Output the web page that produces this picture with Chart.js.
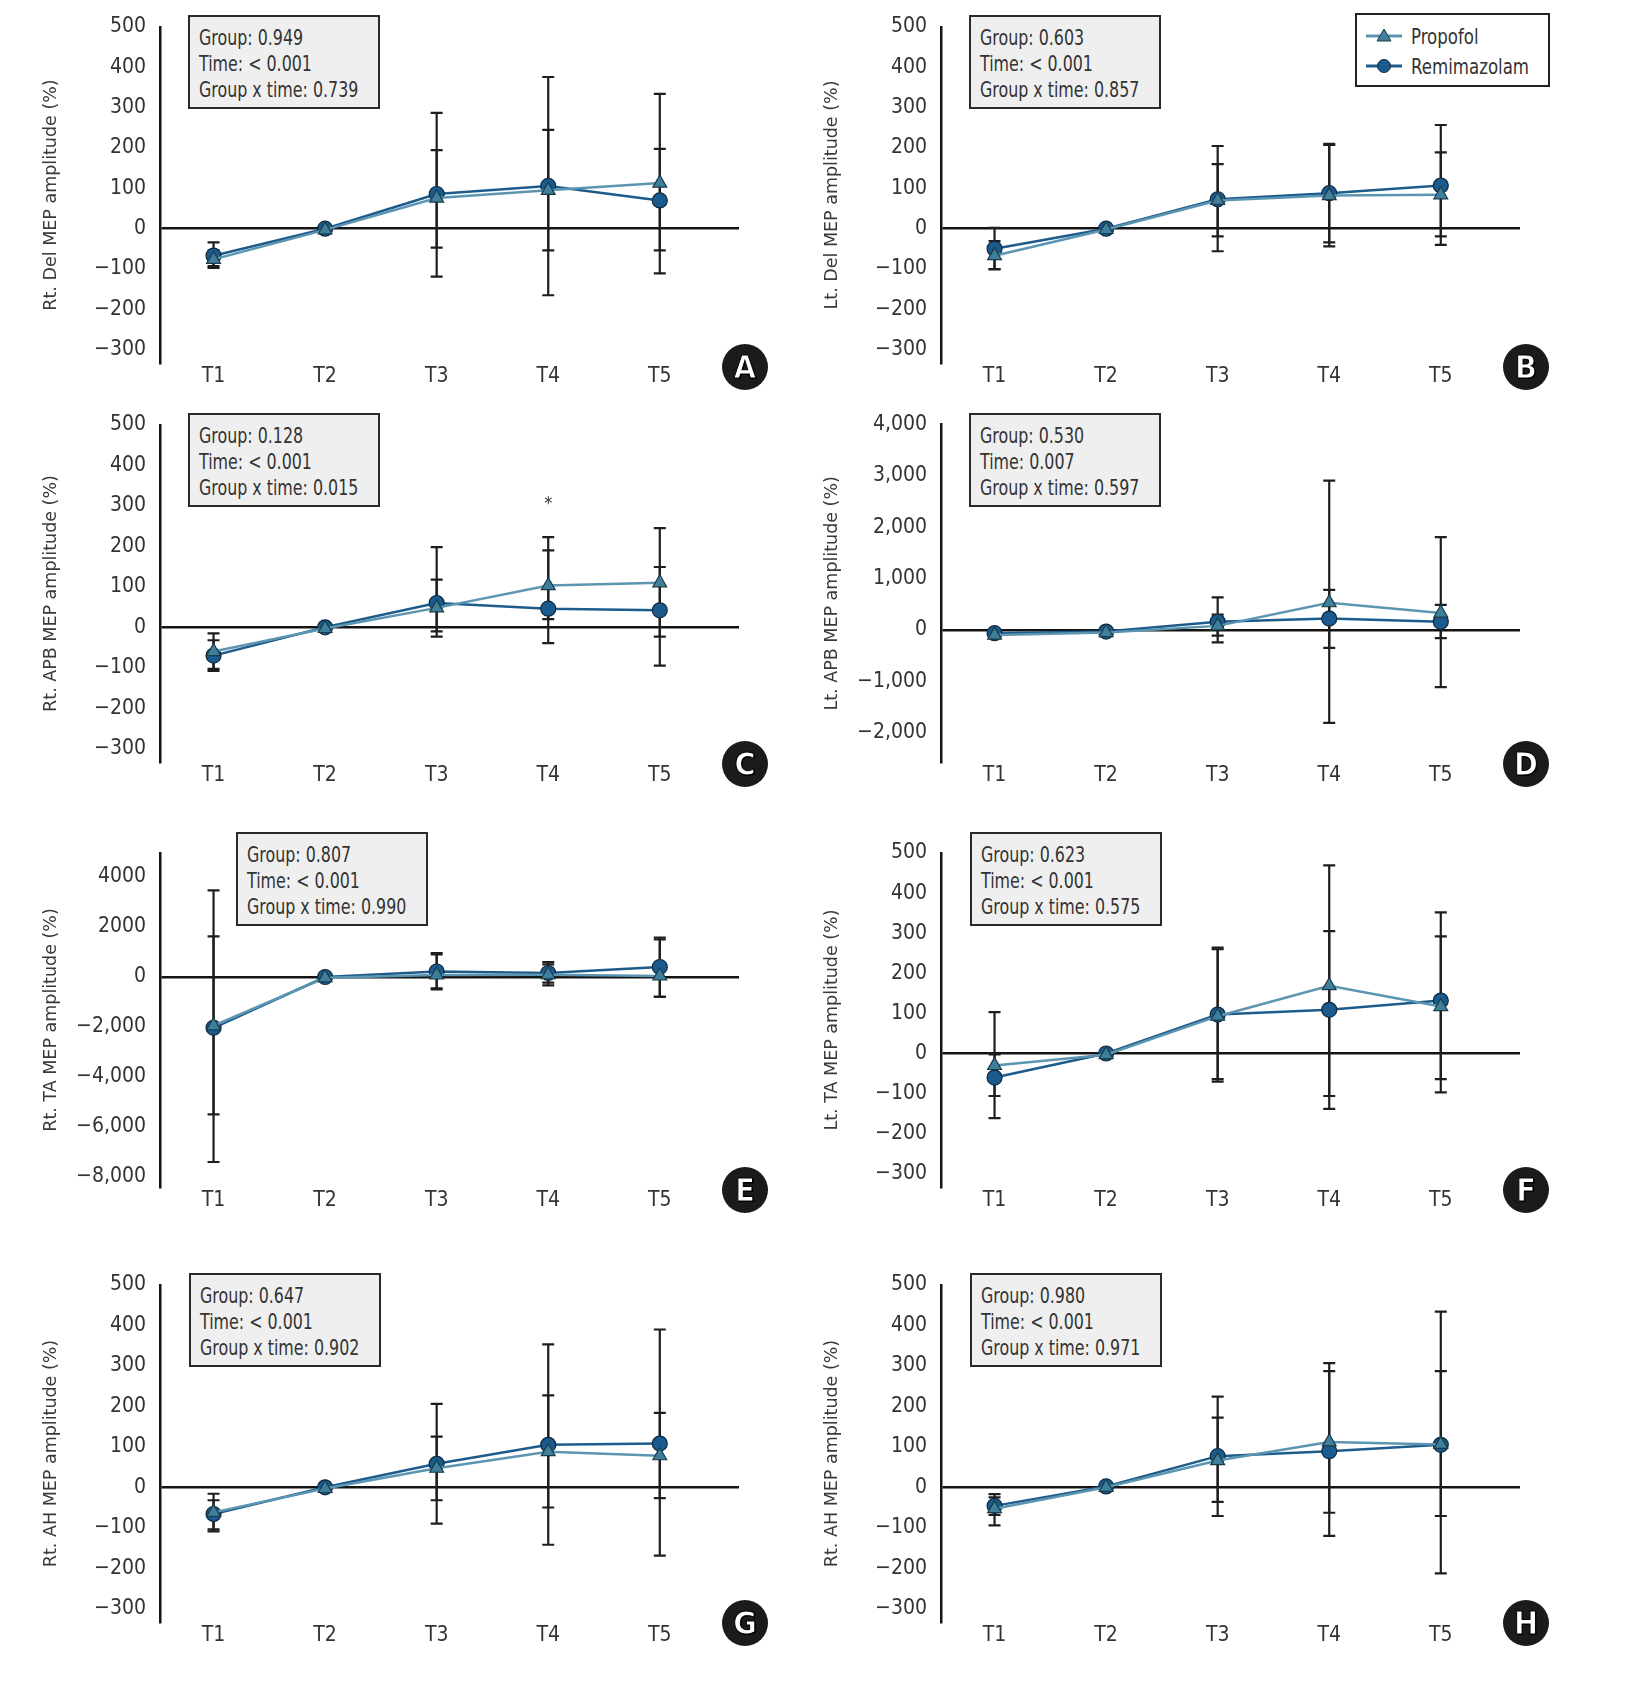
<!DOCTYPE html>
<html>
<head>
<meta charset="utf-8">
<script src="https://cdn.jsdelivr.net/npm/chart.js@4.4.1/dist/chart.umd.min.js"></script>
<style>
  body { margin: 0; background: #fff; }
  #page { position: relative; width: 1631px; height: 1688px; overflow: hidden; background: #fff; }
  #page canvas { position: absolute; }
  .stats { position: absolute; width: 188px; height: 90px; background: #efefef; border: 2px solid #2a2a2a;
           font-family: 'Liberation Sans Narrow', 'DejaVu Sans Condensed', Roboto, sans-serif; font-size: 21px; color: #333; }
  .stats div { position: absolute; left: 9px; line-height: 22px; white-space: nowrap; transform: scaleX(0.84); transform-origin: left center; }
  .tag { position: absolute; width: 46px; height: 46px; border-radius: 50%; background: #1d1a1a; color: #fff;
         font-family: 'Liberation Sans Narrow', 'DejaVu Sans Condensed', sans-serif; font-weight: bold; font-size: 32px;
         text-align: center; line-height: 46px; -webkit-text-stroke: 1px #000; text-shadow: 1px 1px 0 #000; }
  #legend { position: absolute; left: 1355px; top: 13px; width: 191px; height: 70px; border: 2px solid #222; background: #fff;
            font-family: 'Liberation Sans Narrow', 'DejaVu Sans Condensed', Roboto, sans-serif; font-size: 22px; color: #333; }
  #legend .row { position: absolute; left: 9px; height: 24px; display: flex; align-items: center; }
  #legend svg { margin-right: 9px; }
  #legend span { display: inline-block; transform: scaleX(0.84); transform-origin: left center; white-space: nowrap; }
</style>
</head>
<body>
<div id="page"></div>
<script>
// time points
const times = ['T1', 'T2', 'T3', 'T4', 'T5'];

// y tick values and labels
const pctTicks = [-300, -200, -100, 0, 100, 200, 300, 400, 500];
const pctLabels = ['−300', '−200', '−100', '0', '100', '200', '300', '400', '500'];
const apbLtTicks = [-2000, -1000, 0, 1000, 2000, 3000, 4000];
const apbLtLabels = ['−2,000', '−1,000', '0', '1,000', '2,000', '3,000', '4,000'];
const taRtTicks = [-8000, -6000, -4000, -2000, 0, 2000, 4000];
const taRtLabels = ['−8,000', '−6,000', '−4,000', '−2,000', '0', '2000', '4000'];

// A: Rt. Del
const aPropofol = [-76, -3, 76, 95, 113];
const aPropofolHi = [-54, null, 195, 245, 334];
const aPropofolLo = [-93, null, -47, -54, -111];
const aRemi = [-67, 0, 86, 106, 70];
const aRemiHi = [-34, null, 287, 376, 198];
const aRemiLo = [-97, null, -119, -165, -54];

// B: Lt. Del
const bPropofol = [-67, -2, 70, 82, 84];
const bPropofolHi = [-31, null, 160, 208, 189];
const bPropofolLo = [-101, null, -19, -44, -19];
const bRemi = [-50, 0, 73, 88, 107];
const bRemiHi = [2, null, 205, 210, 257];
const bRemiLo = [-100, null, -56, -34, -40];

// C: Rt. APB
const cPropofol = [-60, -3, 48, 103, 110];
const cPropofolHi = [-15, null, 118, 223, 245];
const cPropofolLo = [-103, null, -23, -39, -23];
const cRemi = [-70, 0, 60, 46, 42];
const cRemiHi = [-32, null, 198, 190, 149];
const cRemiLo = [-108, null, -10, 20, -95];

// D: Lt. APB
const dPropofol = [-100, -50, 80, 530, 330];
const dPropofolHi = [null, null, 298, 2908, 1810];
const dPropofolLo = [null, null, -108, -1810, -1111];
const dRemi = [-63, -30, 160, 222, 160];
const dRemiHi = [null, null, 635, 781, 489];
const dRemiLo = [null, null, -241, -349, -159];

// E: Rt. TA
const ePropofol = [-1950, -30, 80, 90, 40];
const ePropofolHi = [1627, null, 900, 507, 1500];
const ePropofolLo = [-5493, null, -450, -227, -780];
const eRemi = [-2030, 0, 220, 160, 400];
const eRemiHi = [3467, null, 960, 600, 1573];
const eRemiLo = [-7400, null, -493, -333, -800];

// F: Lt. TA
const fPropofol = [-30, -3, 93, 169, 117];
const fPropofolHi = [103, null, 260, 469, 292];
const fPropofolLo = [-161, null, -64, -138, -64];
const fRemi = [-60, 0, 97, 109, 132];
const fRemiHi = [-2, null, 264, 305, 352];
const fRemiLo = [-106, null, -70, -106, -97];

// G: Rt. AH
const gPropofol = [-62, -3, 47, 88, 78];
const gPropofolHi = [-32, null, 125, 227, 184];
const gPropofolLo = [-104, null, -32, -50, -27];
const gRemi = [-66, 0, 58, 105, 108];
const gRemiHi = [-16, null, 206, 353, 390];
const gRemiLo = [-109, null, -90, -142, -169];

// H: Rt. AH (second)
const hPropofol = [-53, 0, 66, 112, 106];
const hPropofolHi = [-17, null, 172, 287, 287];
const hPropofolLo = [-94, null, -36, -63, -71];
const hRemi = [-46, 2, 77, 89, 105];
const hRemiHi = [-25, null, 224, 307, 434];
const hRemiLo = [-68, null, -71, -120, -213];

// p-values shown in the boxes
const aStats = ['Group: 0.949', 'Time: < 0.001', 'Group x time: 0.739'];
const bStats = ['Group: 0.603', 'Time: < 0.001', 'Group x time: 0.857'];
const cStats = ['Group: 0.128', 'Time: < 0.001', 'Group x time: 0.015'];
const dStats = ['Group: 0.530', 'Time: 0.007', 'Group x time: 0.597'];
const eStats = ['Group: 0.807', 'Time: < 0.001', 'Group x time: 0.990'];
const fStats = ['Group: 0.623', 'Time: < 0.001', 'Group x time: 0.575'];
const gStats = ['Group: 0.647', 'Time: < 0.001', 'Group x time: 0.902'];
const hStats = ['Group: 0.980', 'Time: < 0.001', 'Group x time: 0.971'];

// significant difference marker in C (time index, value)
const cStar = { t: 4, v: 315 };

const NARROW = "'Liberation Sans Narrow', 'DejaVu Sans Condensed', Roboto, sans-serif";
const PROP_LINE = '#5b95b1', PROP_FILL = '#3f7f99', PROP_EDGE = '#1b3a4a';
const REMI_LINE = '#1d5b8b', REMI_FILL = '#1a5a8c', REMI_EDGE = '#0e2a40';

const colX = [0, 781];
const rowY = [0, 398, 826, 1258];
const rowBottom = [363, 364, 361, 364];
const CW = 800, CH = 400;

const panels = [
  { letter: 'A', col: 0, row: 0, title: 'Rt. Del MEP amplitude (%)', min: -333, max: 500, top: 27, ticks: pctTicks, labels: pctLabels,
    prop: [aPropofol, aPropofolHi, aPropofolLo], remi: [aRemi, aRemiHi, aRemiLo], stats: aStats, box: [188, 15] },
  { letter: 'B', col: 1, row: 0, title: 'Lt. Del MEP amplitude (%)', min: -333, max: 500, top: 27, ticks: pctTicks, labels: pctLabels,
    prop: [bPropofol, bPropofolHi, bPropofolLo], remi: [bRemi, bRemiHi, bRemiLo], stats: bStats, box: [969, 15] },
  { letter: 'C', col: 0, row: 1, title: 'Rt. APB MEP amplitude (%)', min: -333, max: 500, top: 27, ticks: pctTicks, labels: pctLabels,
    prop: [cPropofol, cPropofolHi, cPropofolLo], remi: [cRemi, cRemiHi, cRemiLo], stats: cStats, box: [188, 413], star: cStar },
  { letter: 'D', col: 1, row: 1, title: 'Lt. APB MEP amplitude (%)', min: -2571, max: 4000, top: 19, ticks: apbLtTicks, labels: apbLtLabels,
    prop: [dPropofol, dPropofolHi, dPropofolLo], remi: [dRemi, dRemiHi, dRemiLo], stats: dStats, box: [969, 413] },
  { letter: 'E', col: 0, row: 2, title: 'Rt. TA MEP amplitude (%)', min: -8400, max: 4960, top: 27, ticks: taRtTicks, labels: taRtLabels,
    prop: [ePropofol, ePropofolHi, ePropofolLo], remi: [eRemi, eRemiHi, eRemiLo], stats: eStats, box: [236, 832] },
  { letter: 'F', col: 1, row: 2, title: 'Lt. TA MEP amplitude (%)', min: -333, max: 500, top: 27, ticks: pctTicks, labels: pctLabels,
    prop: [fPropofol, fPropofolHi, fPropofolLo], remi: [fRemi, fRemiHi, fRemiLo], stats: fStats, box: [970, 832] },
  { letter: 'G', col: 0, row: 3, title: 'Rt. AH MEP amplitude (%)', min: -333, max: 500, top: 27, ticks: pctTicks, labels: pctLabels,
    prop: [gPropofol, gPropofolHi, gPropofolLo], remi: [gRemi, gRemiHi, gRemiLo], stats: gStats, box: [189, 1273] },
  { letter: 'H', col: 1, row: 3, title: 'Rt. AH MEP amplitude (%)', min: -333, max: 500, top: 27, ticks: pctTicks, labels: pctLabels,
    prop: [hPropofol, hPropofolHi, hPropofolLo], remi: [hRemi, hRemiHi, hRemiLo], stats: hStats, box: [970, 1273] }
];
const tagCenters = [[745, 367], [1526, 367], [745, 764], [1526, 764], [745, 1190], [1526, 1190], [745, 1623], [1526, 1623]];

// error bars go under the lines and markers
const errorBars = {
  id: 'errorBars',
  beforeDatasetsDraw(chart, args, opts) {
    const { ctx, scales: { x, y } } = chart;
    ctx.save();
    ctx.strokeStyle = '#1e1e1e';
    ctx.lineWidth = 2.2;
    opts.bars.forEach(([hi, lo]) => {
      hi.forEach((h, i) => {
        if (h == null) return;
        const px = x.getPixelForValue(i + 1);
        const t = y.getPixelForValue(h), b = y.getPixelForValue(lo[i]);
        ctx.beginPath();
        ctx.moveTo(px, t); ctx.lineTo(px, b);
        ctx.moveTo(px - 6, t); ctx.lineTo(px + 6, t);
        ctx.moveTo(px - 6, b); ctx.lineTo(px + 6, b);
        ctx.stroke();
      });
    });
    if (opts.star) {
      ctx.fillStyle = '#333';
      ctx.font = '18px ' + NARROW;
      ctx.textAlign = 'center';
      ctx.textBaseline = 'middle';
      ctx.fillText('*', x.getPixelForValue(opts.star.t), y.getPixelForValue(opts.star.v) + 4);
    }
    ctx.restore();
  }
};

const page = document.getElementById('page');

panels.forEach((p, k) => {
  const cv = document.createElement('canvas');
  cv.width = CW; cv.height = CH;
  cv.style.left = colX[p.col] + 'px';
  cv.style.top = rowY[p.row] + 'px';
  cv.style.width = CW + 'px'; cv.style.height = CH + 'px';
  page.appendChild(cv);
  const bottom = rowBottom[p.row];
  const pts = arr => arr.map((v, i) => ({ x: i + 1, y: v }));

  new Chart(cv, {
    type: 'line',
    data: {
      datasets: [
        { label: 'Propofol', data: pts(p.prop[0]), borderColor: PROP_LINE, borderWidth: 2.5,
          pointStyle: 'triangle', pointRadius: 8, pointBackgroundColor: PROP_FILL, pointBorderColor: PROP_EDGE, pointBorderWidth: 1.2 },
        { label: 'Remimazolam', data: pts(p.remi[0]), borderColor: REMI_LINE, borderWidth: 2.5,
          pointStyle: 'circle', pointRadius: 7.5, pointBackgroundColor: REMI_FILL, pointBorderColor: REMI_EDGE, pointBorderWidth: 1.2 }
      ]
    },
    options: {
      responsive: false,
      animation: false,
      layout: { padding: { top: p.top, right: CW - 739, left: 0, bottom: 0 } },
      plugins: {
        legend: { display: false },
        tooltip: { enabled: false },
        errorBars: { bars: [[p.prop[1], p.prop[2]], [p.remi[1], p.remi[2]]], star: p.star }
      },
      scales: {
        x: {
          type: 'linear', min: 0.52, max: 5.71,
          afterBuildTicks: s => { s.ticks = times.map((t, i) => ({ value: i + 1 })); },
          afterFit: s => { s.height = CH - bottom; },
          ticks: { callback: v => times[v - 1], padding: 1, color: '#333', font: { family: NARROW, size: 21 } },
          grid: { display: false, drawTicks: false },
          border: { display: false }
        },
        y: {
          min: p.min, max: p.max,
          afterBuildTicks: s => { s.ticks = p.ticks.map(v => ({ value: v })); },
          afterFit: s => { s.width = 160; },
          ticks: { callback: v => p.labels[p.ticks.indexOf(v)], padding: 14, color: '#333', font: { family: NARROW, size: 21 } },
          grid: { color: c => (c.tick && c.tick.value === 0 ? '#141414' : 'rgba(0,0,0,0)'), lineWidth: 2.5, drawTicks: false },
          border: { display: true, color: '#141414', width: 2.5 },
          title: { display: true, text: p.title, color: '#3a3a3a', font: { family: "'DejaVu Sans', sans-serif", size: 17.5 }, padding: { top: 41, bottom: 0 } }
        }
      }
    },
    plugins: [errorBars]
  });

  const box = document.createElement('div');
  box.className = 'stats';
  box.style.left = p.box[0] + 'px';
  box.style.top = p.box[1] + 'px';
  p.stats.forEach((s, i) => {
    const line = document.createElement('div');
    line.textContent = s;
    line.style.top = (10 + i * 26) + 'px';
    box.appendChild(line);
  });
  page.appendChild(box);

  const tag = document.createElement('div');
  tag.className = 'tag';
  tag.textContent = p.letter;
  tag.style.left = (tagCenters[k][0] - 23) + 'px';
  tag.style.top = (tagCenters[k][1] - 23) + 'px';
  page.appendChild(tag);
});

// legend box in panel B
const legend = document.createElement('div');
legend.id = 'legend';
legend.innerHTML =
  '<div class="row" style="top:9px"><svg width="36" height="16"><line x1="0" y1="8" x2="36" y2="8" stroke="' + PROP_LINE + '" stroke-width="3"/>' +
  '<polygon points="18,1 25,13 11,13" fill="' + PROP_FILL + '" stroke="' + PROP_EDGE + '" stroke-width="1"/></svg><span>Propofol</span></div>' +
  '<div class="row" style="top:39px"><svg width="36" height="16"><line x1="0" y1="8" x2="36" y2="8" stroke="' + REMI_LINE + '" stroke-width="3"/>' +
  '<circle cx="18" cy="8" r="6.5" fill="' + REMI_FILL + '" stroke="' + REMI_EDGE + '" stroke-width="1"/></svg><span>Remimazolam</span></div>';
page.appendChild(legend);
</script>
</body>
</html>
